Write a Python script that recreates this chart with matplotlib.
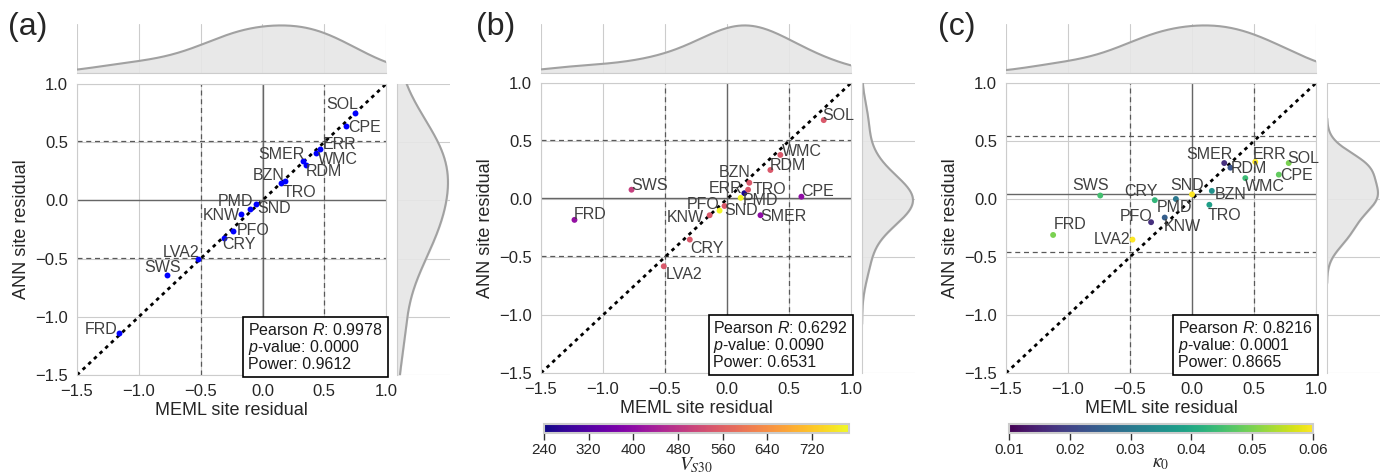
import numpy as np
import matplotlib.pyplot as plt
import seaborn as sns

sns.set_style('whitegrid')
plt.rcParams['font.family'] = ['Liberation Sans', 'DejaVu Sans']
plt.rcParams['mathtext.fontset'] = 'custom'
plt.rcParams['mathtext.rm'] = 'Liberation Sans'
plt.rcParams['mathtext.it'] = 'Liberation Sans:italic'

sites = ['SOL', 'CPE', 'ERR', 'WMC', 'SMER', 'RDM', 'BZN', 'TRO',
         'SND', 'PMD', 'KNW', 'PFO', 'CRY', 'LVA2', 'SWS', 'FRD']

# site residuals, one pair of arrays per model comparison
meml_a = [0.75, 0.68, 0.47, 0.43, 0.33, 0.35, 0.15, 0.18,
          -0.05, -0.10, -0.17, -0.24, -0.31, -0.52, -0.77, -1.16]
ann_a = [0.75, 0.64, 0.44, 0.41, 0.34, 0.30, 0.15, 0.17,
         -0.03, -0.07, -0.12, -0.26, -0.32, -0.50, -0.64, -1.14]

meml_b = [0.78, 0.60, 0.14, 0.43, 0.27, 0.35, 0.18, 0.17,
          -0.06, 0.11, -0.14, -0.02, -0.30, -0.51, -0.77, -1.23]
ann_b = [0.68, 0.02, 0.05, 0.38, -0.14, 0.25, 0.14, 0.08,
         -0.10, 0.01, -0.14, -0.06, -0.35, -0.58, 0.08, -0.18]

meml_c = [0.78, 0.70, 0.51, 0.43, 0.26, 0.31, 0.16, 0.14,
          0.00, -0.13, -0.22, -0.33, -0.30, -0.48, -0.74, -1.12]
ann_c = [0.31, 0.21, 0.32, 0.18, 0.31, 0.27, 0.07, -0.05,
         0.04, 0.00, -0.16, -0.20, -0.01, -0.35, 0.03, -0.31]

vs30 = [545, 400, 250, 545, 400, 545, 545, 545,
        780, 780, 545, 545, 545, 545, 500, 410]
kappa0 = [0.050, 0.048, 0.060, 0.044, 0.017, 0.023, 0.035, 0.038,
          0.060, 0.030, 0.025, 0.017, 0.043, 0.060, 0.045, 0.050]

# Pearson R, p-value, power
stats_a = (0.9978, 0.0000, 0.9612)
stats_b = (0.6292, 0.0090, 0.6531)
stats_c = (0.8216, 0.0001, 0.8665)

vs30_ticks = [240, 320, 400, 480, 560, 640, 720]
kappa_ticks = [0.01, 0.02, 0.03, 0.04, 0.05, 0.06]

# label offsets (pixels, right / up) from each point
offs_a = {'SOL': (-13, 9), 'CPE': (18, -2), 'ERR': (19, 5), 'WMC': (22, -7),
          'SMER': (-22, 6), 'RDM': (18, -6), 'BZN': (-12, 7), 'TRO': (15, -12),
          'SND': (18, -5), 'PMD': (-15, 7), 'KNW': (-20, -1), 'PFO': (20, 0),
          'CRY': (15, -7), 'LVA2': (-17, 6), 'SWS': (-5, 7), 'FRD': (-18, 4)}
offs_b = {'SOL': (15, 5), 'CPE': (16, 5), 'ERR': (-19, 5), 'WMC': (22, 3),
          'SMER': (23, -1), 'RDM': (18, 5), 'BZN': (-15, 10), 'TRO': (21, 0),
          'SND': (22, 0), 'PMD': (20, -3), 'KNW': (-24, -2), 'PFO': (-21, 1),
          'CRY': (17, -9), 'LVA2': (20, -8), 'SWS': (18, 4), 'FRD': (16, 5)}
offs_c = {'SOL': (15, 5), 'CPE': (18, -1), 'ERR': (14, 7), 'WMC': (20, -8),
          'SMER': (-15, 9), 'RDM': (18, -1), 'BZN': (19, -4), 'TRO': (15, -11),
          'SND': (-5, 9), 'PMD': (-1, -8), 'KNW': (18, -9), 'PFO': (-15, 6),
          'CRY': (-14, 9), 'LVA2': (-20, 0), 'SWS': (-10, 10), 'FRD': (17, 10)}

W, H = 1382, 476
fig = plt.figure(figsize=(W / 100, H / 100), dpi=100)


def px_axes(l, t, r, b):
    return fig.add_axes([l / W, 1 - b / H, (r - l) / W, (b - t) / H])


def kde(vals):
    vals = np.asarray(vals)
    bw = vals.std(ddof=1) * len(vals) ** (-1 / 5)
    grid = np.linspace(vals.min() - 3 * bw, vals.max() + 3 * bw, 400)
    dens = np.exp(-0.5 * ((grid[:, None] - vals[None, :]) / bw) ** 2).sum(1)
    return grid, dens / (len(vals) * bw * np.sqrt(2 * np.pi))


ticks = np.arange(-1.5, 1.01, 0.5)


def panel(x, y, offs, stats, main, top, right, letter, lx, c=None, cmap=None,
          vmin=None, vmax=None, cbox=None, cticks=None, clabel=None):
    ax = px_axes(*main)
    ax_t = px_axes(*top)
    ax_r = px_axes(*right)
    x = np.asarray(x)
    y = np.asarray(y)
    mx, my = x.mean(), y.mean()

    ax.axvline(mx, color='0.4', lw=1, zorder=1)
    ax.axhline(my, color='0.4', lw=1, zorder=1)
    for d in (-0.5, 0.5):
        ax.axvline(mx + d, color='0.35', lw=0.9, ls=(0, (4, 3)), zorder=1)
        ax.axhline(my + d, color='0.35', lw=0.9, ls=(0, (4, 3)), zorder=1)
    ax.plot([-1.5, 1.0], [-1.5, 1.0], color='k', lw=2, ls=(0, (1.3, 1.5)), zorder=2)

    if c is None:
        sc = ax.scatter(x, y, s=18, color='blue', lw=0, zorder=3)
    else:
        sc = ax.scatter(x, y, s=18, c=c, cmap=cmap, vmin=vmin, vmax=vmax, lw=0, zorder=3)

    for name, xi, yi in zip(sites, x, y):
        dx, dy = offs[name]
        ax.annotate(name, (xi, yi), xytext=(dx * 0.72, dy * 0.72),
                    textcoords='offset points', ha='center', va='center',
                    fontsize=11.5, color='0.25', zorder=4)

    r, p, pw = stats
    ax.text(0.99, 0.01,
            f'Pearson $R$: {r:.4f}\n$p$-value: {p:.4f}\nPower: {pw:.4f}',
            transform=ax.transAxes, ha='right', va='bottom', fontsize=11.5,
            multialignment='left', color='0.1', linespacing=1.0, zorder=5,
            bbox=dict(boxstyle='square,pad=0.3', fc='white', ec='black', lw=1.2))

    ax.set_xlim(-1.5, 1.0)
    ax.set_ylim(-1.5, 1.0)
    ax.set_xticks(ticks)
    ax.set_yticks(ticks)
    ax.tick_params(labelsize=12, pad=3, labelcolor='0.15')
    ax.set_xlabel('MEML site residual', fontsize=13, labelpad=2)
    ax.set_ylabel('ANN site residual', fontsize=13, labelpad=4)

    # marginal densities
    gx, dx_ = kde(x)
    ax_t.fill_between(gx, dx_, color='0.9', alpha=0.9)
    ax_t.plot(gx, dx_, color='0.63', lw=1.5)
    ax_t.set_xlim(-1.5, 1.0)
    ax_t.set_ylim(0, dx_.max() * 1.03)
    ax_t.set_xticks(ticks)
    ax_t.set_yticks([])
    ax_t.tick_params(labelbottom=False)
    for s in ('left', 'top', 'right'):
        ax_t.spines[s].set_visible(False)

    gy, dy_ = kde(y)
    ax_r.fill_betweenx(gy, dy_, color='0.9', alpha=0.9)
    ax_r.plot(dy_, gy, color='0.63', lw=1.5)
    ax_r.set_ylim(-1.5, 1.0)
    ax_r.set_xlim(0, dy_.max() * 1.04)
    ax_r.set_yticks(ticks)
    ax_r.set_xticks([])
    ax_r.tick_params(labelleft=False)
    for s in ('bottom', 'top', 'right'):
        ax_r.spines[s].set_visible(False)

    fig.text(lx / W, 1 - 27 / H, letter, fontsize=23, va='center', ha='left')

    if cbox is not None:
        cax = px_axes(*cbox)
        cb = fig.colorbar(sc, cax=cax, orientation='horizontal')
        cb.set_ticks(cticks)
        cb.ax.tick_params(labelsize=11, length=5, width=1, color='0.2',
                          bottom=True, pad=2, labelcolor='0.15')
        cb.outline.set_edgecolor('0.8')
        cb.outline.set_linewidth(1.5)
        cb.set_label(clabel, fontsize=14, math_fontfamily='stix', labelpad=-1)


panel(meml_a, ann_a, offs_a, stats_a,
      (77, 84, 386, 375), (77, 24, 386, 73), (397, 84, 450, 375), '(a)', 8)
panel(meml_b, ann_b, offs_b, stats_b,
      (541, 83, 851, 373), (541, 24, 851, 73), (862, 83, 915, 373), '(b)', 476,
      c=vs30, cmap='plasma', vmin=240, vmax=786, cbox=(544, 424, 849, 433),
      cticks=vs30_ticks, clabel='$V_{S30}$')
panel(meml_c, ann_c, offs_c, stats_c,
      (1006, 83, 1316, 373), (1006, 24, 1316, 73), (1327, 83, 1380, 373), '(c)', 938,
      c=kappa0, cmap='viridis', vmin=0.01, vmax=0.06, cbox=(1009, 424, 1313, 433),
      cticks=kappa_ticks, clabel='$\\kappa_0$')

fig.savefig('out.png', dpi=100)
